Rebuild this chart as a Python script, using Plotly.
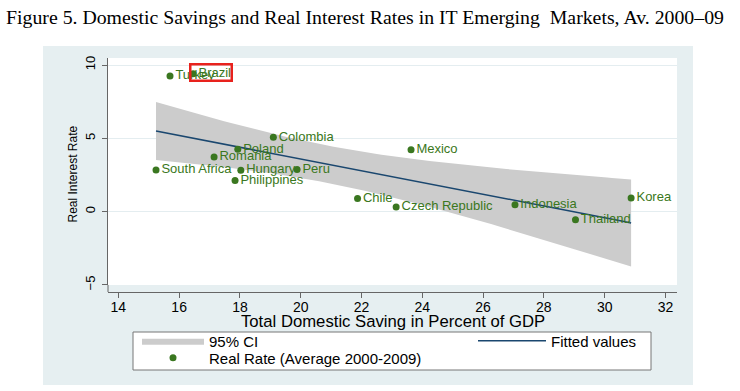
import numpy as np
import plotly.graph_objects as go

# ---- data ----
countries = ["Turkey", "Brazil", "Colombia", "Poland", "Romania", "South Africa",
             "Hungary", "Peru", "Philippines", "Mexico", "Chile", "Czech Republic",
             "Indonesia", "Thailand", "Korea"]
saving = [15.70, 16.46, 19.10, 17.93, 17.15, 15.24, 18.03, 19.88, 17.84,
          23.63, 21.87, 23.14, 27.05, 29.04, 30.87]
real_rate = [9.25, 9.40, 5.07, 4.25, 3.72, 2.85, 2.83, 2.88, 2.12,
             4.22, 0.89, 0.32, 0.48, -0.55, 0.94]
x_ticks = [14, 16, 18, 20, 22, 24, 26, 28, 30, 32]
y_ticks = [-5, 0, 5, 10]
highlight = "Brazil"

# ---- linear fit with 95% CI of the mean prediction (as Stata lfitci) ----
x = np.array(saving)
y = np.array(real_rate)
n = len(x)
b1, b0 = np.polyfit(x, y, 1)
resid = y - (b0 + b1 * x)
s = np.sqrt(np.sum(resid ** 2) / (n - 2))
sxx = np.sum((x - x.mean()) ** 2)
t975 = 2.1604  # t(0.975, df=13)
xs = np.linspace(x.min(), x.max(), 100)
fit = b0 + b1 * xs
half = t975 * s * np.sqrt(1 / n + (xs - x.mean()) ** 2 / sxx)
upper = fit + half
lower = fit - half

GREEN = "#3a7720"
NAVY = "#1a476f"
BAND = "#cccccc"
REGION = "#e6eff1"
W, H = 740.0, 391.0
FONT = "Arial, Liberation Sans"

fig = go.Figure()
fig.add_trace(go.Scatter(
    x=np.concatenate([xs, xs[::-1]]), y=np.concatenate([upper, lower[::-1]]),
    fill="toself", fillcolor=BAND, line=dict(width=0), mode="lines",
    name="95% CI", legend="legend", hoverinfo="skip"))
fig.add_trace(go.Scatter(
    x=xs, y=fit, mode="lines", line=dict(color=NAVY, width=1.5),
    name="Fitted values", legend="legend2"))
fig.add_trace(go.Scatter(
    x=saving, y=real_rate, mode="markers+text", text=countries,
    textposition="middle right",
    textfont=dict(family=FONT, size=13, color=GREEN),
    marker=dict(color=GREEN, size=7),
    name="Real Rate (Average 2000-2009)", legend="legend3"))

bi = countries.index(highlight)
fig.add_annotation(x=saving[bi], y=real_rate[bi], xref="x", yref="y",
                   text="", showarrow=False, xanchor="left", yanchor="middle",
                   xshift=-4, yshift=1.5, width=39, height=14,
                   bordercolor="#e8221d", borderwidth=2.5, borderpad=0)

PW, PH = 569.0, 234.0
def px(v):
    return (v - 108) / PW
def py(v):
    return (292 - v) / PH
def cx(v):
    return v / W
def cy(v):
    return 1 - v / H

# axis titles placed as in the reference
fig.add_annotation(text="Total Domestic Saving in Percent of GDP",
                   xref="x domain", yref="paper", x=0.5, y=py(321),
                   xanchor="center", yanchor="middle", showarrow=False,
                   font=dict(family=FONT, size=16.7, color="black"))
fig.add_annotation(text="Real Interest Rate", textangle=-90,
                   xref="paper", yref="paper", x=px(72), y=py(174.5),
                   xanchor="center", yanchor="middle", showarrow=False,
                   font=dict(family=FONT, size=12, color="black"))

# white page margins around the light graph region (decoration)
for (a0, a1, c0, c1) in [(0, 740, 0, 46), (0, 740, 385, 391), (0, 43, 0, 391), (693, 740, 0, 391)]:
    fig.add_shape(type="rect", xref="paper", yref="paper", layer="above",
                  x0=px(a0) - (0.01 if a0 == 0 else 0), x1=px(a1) + (0.01 if a1 == 740 else 0),
                  y0=py(c1) - (0.01 if c1 == 391 else 0), y1=py(c0) + (0.01 if c0 == 0 else 0),
                  fillcolor="white", line=dict(width=0))
fig.add_shape(type="rect", xref="paper", yref="paper", layer="above",
              x0=px(133), x1=px(651), y0=py(370), y1=py(332),
              fillcolor="white", line=dict(color="#777777", width=1))
fig.add_shape(type="line", xref="paper", yref="paper", layer="above",
              x0=0, x1=0, y0=0, y1=0.03, line=dict(color="#666666", width=1))

leg = dict(bgcolor="rgba(0,0,0,0)", borderwidth=0, xref="container", yref="container",
           xanchor="left", yanchor="middle", font=dict(size=15, color="black"))
fig.update_layout(
    width=740, height=391,
    margin=dict(l=108, r=63, t=58, b=99, autoexpand=False),
    paper_bgcolor=REGION, plot_bgcolor="white",
    font=dict(family=FONT, color="#111111"),
    title=dict(text="Figure 5. Domestic Savings and Real Interest Rates in IT Emerging&nbsp; Markets, Av. 2000–09",
               font=dict(family="Liberation Serif, Times New Roman", size=19.8, color="black"),
               x=365 / W, xanchor="center", xref="container",
               y=cy(17), yanchor="middle", yref="container"),
    xaxis=dict(range=[13.66, 32.38], anchor="free", position=0, automargin=False,
               tickvals=x_ticks, ticks="outside", ticklen=5, tickcolor="#666666",
               ticklabelstandoff=-3,
               showline=True, linecolor="#666666", linewidth=1,
               showgrid=False, zeroline=False,
               tickfont=dict(size=14, color="black")),
    yaxis=dict(range=[-5, 10.48], domain=[0.03, 1], automargin=False,
               tickvals=y_ticks, ticks="outside", ticklen=5, tickcolor="#666666",
               tickangle=-90, ticklabelstandoff=2,
               showline=True, linecolor="#666666", linewidth=1,
               showgrid=True, gridcolor="#e4edf0", gridwidth=1, zeroline=False,
               tickfont=dict(size=13, color="black")),
    showlegend=True,
    legend=dict(leg, x=cx(137), y=cy(341), itemwidth=62),
    legend3=dict(leg, x=cx(137), y=cy(358), itemwidth=62),
    legend2=dict(leg, x=cx(473), y=cy(341), itemwidth=68),
)

fig.write_html("out.html", config={"displayModeBar": False},
               post_script="document.body.style.margin='0px';")
